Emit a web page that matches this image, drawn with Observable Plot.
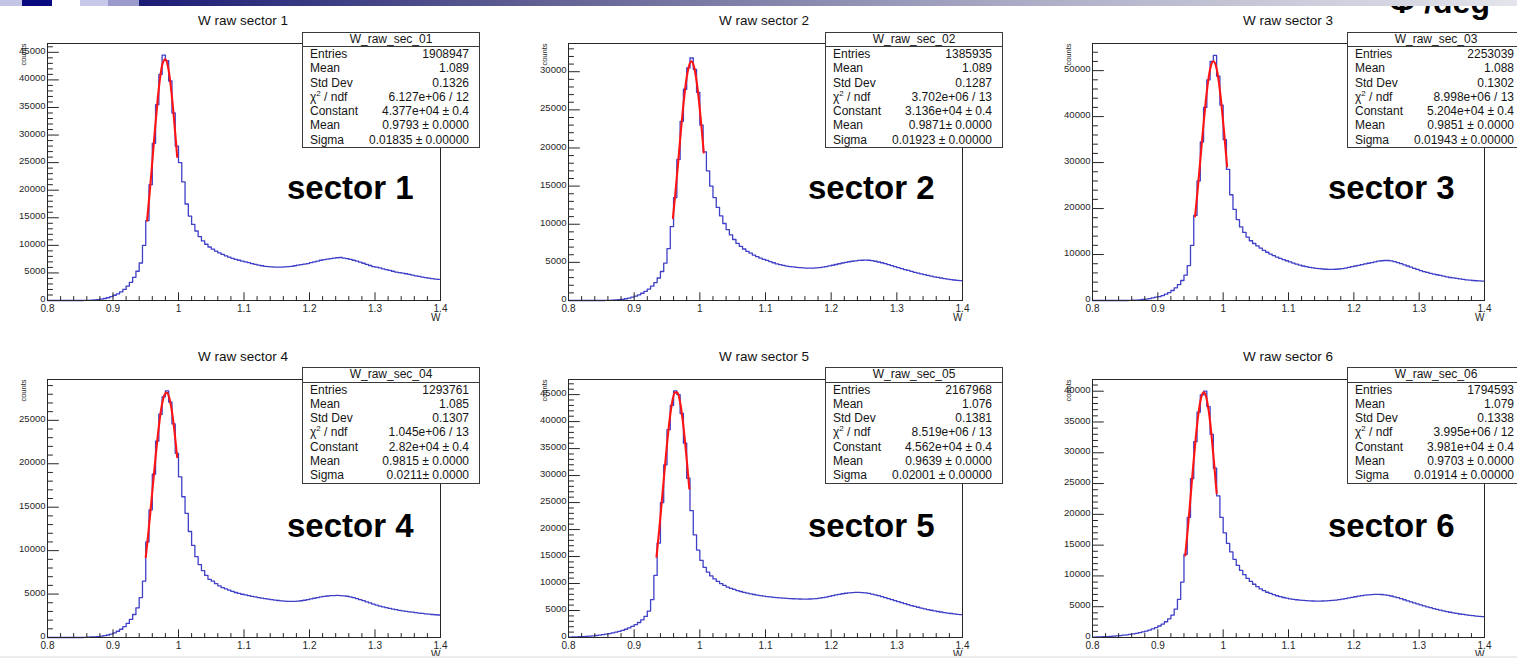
<!DOCTYPE html>
<html>
<head>
<meta charset="utf-8">
<script src="https://cdn.jsdelivr.net/npm/d3@7"></script>
<script src="https://cdn.jsdelivr.net/npm/@observablehq/plot@0.6"></script>
<style>
  body { margin: 0; background: #fff; }
  #root { position: relative; width: 1517px; height: 664px; overflow: hidden; font-family: "Liberation Sans", Arial, sans-serif; background: #fff; }
  .abs { position: absolute; }
  .title { position: absolute; font-size: 13.5px; line-height: 13.5px; color: #111; transform: translateX(-50%); white-space: nowrap; }
  .sector { position: absolute; font-size: 33px; line-height: 33px; font-weight: bold; color: #000; white-space: nowrap; }
  .stat { position: absolute; width: 178px; box-sizing: border-box; border: 1px solid #3a3a3a; background: #fff; font-size: 12px; color: #151515; }
  .stat .hdr { height: 13.5px; line-height: 13.5px; text-align: center; border-bottom: 1px solid #3a3a3a; }
  .stat .row { display: flex; justify-content: space-between; height: 14.3px; line-height: 14.3px; padding: 0 10px 0 7px; white-space: nowrap; }
  .band { position: absolute; top: 0; height: 6px; }
</style>
</head>
<body>
<div id="root"></div>
<script>
// ---------------- data ----------------
// histogram bins: left edges of 0.005-wide bins in W from 0.8 to 1.4
const wBinEdges = d3.range(120).map(i => Math.round((0.8 + i * 0.005) * 1000) / 1000);
const wUpperEdge = 1.4;

const sec1Counts = [
  0,0,0,0,0,0,0,0,0,0,
  0,20,40,70,110,170,250,360,500,700,
  950,1200,1550,2000,2600,3300,4200,5300,6800,10000,
  14500,21000,28500,35500,41000,44500,43500,39800,34000,28000,
  25000,21500,17500,15300,13800,12600,11600,10800,10200,9700,
  9300,8950,8650,8350,8100,7850,7650,7450,7300,7150,
  7000,6850,6700,6550,6400,6300,6200,6150,6100,6050,
  6050,6050,6100,6150,6200,6300,6400,6500,6600,6700,
  6850,7000,7150,7300,7400,7500,7600,7700,7750,7800,
  7700,7600,7450,7300,7150,6950,6750,6550,6350,6150,
  6050,5900,5750,5600,5450,5300,5150,5050,4950,4850,
  4750,4600,4480,4360,4250,4150,4050,3960,3890,3830
];
const sec2Counts = [
  0,0,0,0,0,0,0,0,0,0,
  0,10,25,45,70,110,160,230,320,430,
  570,740,950,1200,1500,1880,2350,2950,3800,4900,
  6800,9700,13500,18500,23500,27700,30500,31800,30300,27300,
  23000,19500,17000,15000,13500,12200,11100,10100,9300,8600,
  8000,7500,7100,6750,6450,6200,5950,5750,5550,5400,
  5250,5100,4950,4800,4700,4600,4500,4450,4400,4350,
  4300,4280,4250,4250,4250,4280,4320,4380,4450,4530,
  4620,4720,4820,4920,5000,5080,5150,5200,5250,5280,
  5300,5280,5220,5150,5050,4950,4830,4700,4570,4440,
  4310,4180,4060,3940,3820,3700,3590,3480,3380,3290,
  3200,3110,3030,2950,2880,2810,2750,2690,2640,2600
];
const sec3Counts = [
  0,0,0,0,0,0,0,0,0,0,
  0,30,60,100,150,220,310,420,560,730,
  850,1080,1370,1730,2180,2750,3450,4350,5500,7600,
  12000,18500,26000,34500,42000,48000,52000,53300,48800,42500,
  35000,28500,23000,19800,17600,16000,14800,13800,13000,12400,
  11900,11400,10900,10500,10100,9750,9450,9150,8900,8650,
  8400,8150,7900,7700,7500,7350,7200,7100,7000,6920,
  6850,6800,6780,6780,6800,6850,6950,7050,7200,7350,
  7500,7650,7800,7950,8100,8250,8400,8550,8650,8700,
  8700,8600,8450,8250,8000,7750,7500,7250,7000,6750,
  6500,6300,6100,5900,5750,5600,5450,5300,5150,5000,
  4900,4800,4700,4600,4500,4420,4350,4300,4250,4200
];
const sec4Counts = [
  0,0,0,0,0,0,0,0,0,0,
  0,20,40,60,80,110,150,210,290,400,
  540,720,950,1250,1620,2080,2650,3400,4600,6500,
  11000,14700,18800,22600,25700,27700,28400,27100,24600,21200,
  18500,16200,14300,12200,10600,9300,8400,7700,7150,6700,
  6500,6200,5950,5750,5600,5450,5300,5180,5070,4980,
  4900,4820,4740,4670,4600,4530,4470,4410,4360,4310,
  4260,4220,4180,4160,4150,4160,4190,4230,4290,4360,
  4440,4520,4600,4670,4730,4780,4810,4830,4840,4830,
  4800,4750,4680,4590,4480,4360,4240,4110,3980,3850,
  3730,3620,3520,3430,3350,3270,3200,3130,3070,3010,
  2960,2910,2860,2810,2770,2730,2690,2650,2620,2590
];
const sec5Counts = [
  80,100,120,150,180,220,260,310,370,440,
  520,610,720,840,980,1140,1320,1530,1770,2050,
  2380,2780,3280,3900,4900,7000,11500,17500,25000,32000,
  38500,43000,45700,45000,41500,36000,29500,23500,19000,16200,
  14300,13000,12100,11400,10850,10400,10000,9650,9350,9100,
  8900,8700,8520,8360,8220,8090,7970,7860,7760,7670,
  7590,7520,7450,7390,7340,7290,7250,7210,7180,7150,
  7130,7120,7120,7130,7160,7210,7280,7370,7480,7610,
  7750,7880,8000,8110,8200,8270,8320,8350,8350,8320,
  8260,8170,8050,7910,7750,7580,7400,7210,7020,6830,
  6640,6450,6270,6090,5920,5760,5600,5450,5310,5180,
  5050,4930,4820,4720,4620,4530,4450,4370,4300,4240
];
const sec6Counts = [
  60,80,100,120,150,180,220,260,310,370,
  430,500,580,670,780,900,1040,1200,1390,1610,
  1870,2180,2560,3030,3620,4600,6200,9000,13500,19500,
  25800,31800,36600,39400,40000,37500,33000,27500,23000,19500,
  17000,15300,13900,12700,11700,10900,10200,9600,9100,8650,
  8250,7900,7600,7350,7150,6950,6780,6630,6500,6380,
  6280,6200,6130,6070,6020,5980,5950,5930,5920,5920,
  5930,5950,5980,6020,6080,6150,6230,6320,6420,6520,
  6620,6720,6800,6870,6930,6970,7000,7000,6980,6930,
  6850,6740,6610,6460,6300,6130,5960,5790,5620,5450,
  5290,5130,4980,4840,4700,4570,4440,4320,4210,4100,
  4000,3910,3820,3740,3670,3600,3540,3480,3430,3380
];

// Gaussian fit curves (red)
const fit1W = [0.952,0.956,0.960,0.964,0.968,0.972,0.976,0.980,0.984,0.988,0.992,0.996,0.998];
const fit1C = [14470,19550,25170,30900,36200,40440,43070,43740,42360,39120,34450,28930,26040];
const fit2W = [0.959,0.963,0.967,0.971,0.975,0.979,0.983,0.987,0.991,0.995,0.999,1.003,1.006];
const fit2C = [10800,14300,18100,22100,25700,28700,30600,31360,30700,28800,25900,22300,19400];
const fit3W = [0.957,0.961,0.965,0.969,0.973,0.977,0.981,0.985,0.989,0.993,0.997,1.001,1.006];
const fit3C = [18270,24120,30490,36920,42860,47710,50890,52040,51000,47930,43140,37260,29140];
const fit4W = [0.950,0.954,0.958,0.962,0.966,0.970,0.974,0.978,0.982,0.986,0.990,0.994,0.998];
const fit4C = [9260,12060,15170,18400,21530,24310,26480,27810,28190,27570,26010,23650,20770];
const fit5W = [0.934,0.938,0.942,0.946,0.950,0.954,0.958,0.962,0.966,0.970,0.974,0.978,0.982,0.984];
const fit5C = [14950,19740,25070,30570,35840,40360,43680,45410,45370,43550,40160,35600,30290,27560];
const fit6W = [0.942,0.946,0.950,0.954,0.958,0.962,0.966,0.970,0.974,0.978,0.982,0.986,0.990];
const fit6C = [13340,17780,22680,27690,32380,36230,38810,39810,39070,36710,33040,28440,23440];

const panelTitles = ["W raw sector 1","W raw sector 2","W raw sector 3","W raw sector 4","W raw sector 5","W raw sector 6"];
const sectorLabels = ["sector 1","sector 2","sector 3","sector 4","sector 5","sector 6"];
const statNames = ["W_raw_sec_01","W_raw_sec_02","W_raw_sec_03","W_raw_sec_04","W_raw_sec_05","W_raw_sec_06"];
const statEntries = ["1908947","1385935","2253039","1293761","2167968","1794593"];
const statMeans = ["1.089","1.089","1.088","1.085","1.076","1.079"];
const statStdDevs = ["0.1326","0.1287","0.1302","0.1307","0.1381","0.1338"];
const statChi2 = ["6.127e+06 / 12","3.702e+06 / 13","8.998e+06 / 13","1.045e+06 / 13","8.519e+06 / 13","3.995e+06 / 12"];
const statConstants = ["4.377e+04 ± 0.4","3.136e+04 ± 0.4","5.204e+04 ± 0.4","2.82e+04 ± 0.4","4.562e+04 ± 0.4","3.981e+04 ± 0.4"];
const statFitMeans = ["0.9793 ± 0.0000","0.9871± 0.0000","0.9851 ± 0.0000","0.9815 ± 0.0000","0.9639 ± 0.0000","0.9703 ± 0.0000"];
const statSigmas = ["0.01835 ± 0.00000","0.01923 ± 0.00000","0.01943 ± 0.00000","0.0211± 0.0000","0.02001 ± 0.00000","0.01914 ± 0.00000"];

const yMaxes = [46600, 33700, 55900, 29700, 47800, 41900];
const yMajorSteps = [5000, 5000, 10000, 5000, 5000, 5000];
const xMajorTicks = [0.8, 0.9, 1.0, 1.1, 1.2, 1.3, 1.4];
const xTitle = "W";
const yTitle = "counts";

// ---------------- drawing ----------------
const allCounts = [sec1Counts, sec2Counts, sec3Counts, sec4Counts, sec5Counts, sec6Counts];
const allFitW = [fit1W, fit2W, fit3W, fit4W, fit5W, fit6W];
const allFitC = [fit1C, fit2C, fit3C, fit4C, fit5C, fit6C];

const root = document.getElementById("root");
const FONT = "Liberation Sans, Arial, Helvetica, sans-serif";
const INK = "#262626";

function drawPanel(i) {
  const col = i % 3, row = Math.floor(i / 3);
  const L = [0, 500, 1020][col], W = [500, 520, 497][col];
  const ml = [47, 68, 72][col], mr = [60, 58, 33][col];
  const T = [0, 330][row], H = [330, 334][row];
  const mt = [43, 49][row], mb = [30, 27][row];
  const pw = W - ml - mr, ph = H - mt - mb;

  const counts = allCounts[i];
  const hist = wBinEdges.map((w, k) => ({w, c: counts[k]}));
  hist.push({w: wUpperEdge, c: counts[counts.length - 1]});
  const fit = allFitW[i].map((w, k) => ({w, c: allFitC[i][k]}));

  const ymax = yMaxes[i], step = yMajorSteps[i];
  const yMaj = d3.range(0, ymax, step);
  const yMin = d3.range(0, ymax, step / 5).filter(v => Math.abs(v % step) > 1e-6);
  const xMin = d3.range(0, 31).map(k => Math.round((0.8 + k * 0.02) * 1000) / 1000)
    .filter(v => !xMajorTicks.some(t => Math.abs(t - v) < 1e-6));

  const svg = Plot.plot({
    width: W, height: H,
    marginLeft: ml, marginRight: mr, marginTop: mt, marginBottom: mb,
    x: {domain: [0.8, 1.4], axis: null},
    y: {domain: [0, ymax], axis: null},
    style: {background: "transparent", overflow: "visible", fontFamily: FONT},
    marks: [
      Plot.line(hist, {x: "w", y: "c", curve: "step-after", stroke: "#3f3fc8", strokeWidth: 1.3}),
      Plot.line(fit, {x: "w", y: "c", curve: "monotone-x", stroke: "#ff1414", strokeWidth: 2.1}),
      Plot.ruleX(xMajorTicks, {insetTop: ph - 7.7, stroke: INK}),
      Plot.ruleX(xMin, {insetTop: ph - 3.9, stroke: INK}),
      Plot.ruleY(yMaj, {insetRight: pw - 11.8, stroke: INK}),
      Plot.ruleY(yMin, {insetRight: pw - 5.9, stroke: INK}),
      Plot.frame({stroke: INK, strokeWidth: 1}),
      Plot.axisX(xMajorTicks, {tickSize: 0, tickPadding: 4.5, label: null, fontSize: 10, fill: INK,
        tickFormat: d => String(+d.toFixed(1))}),
      Plot.axisY(yMaj, {tickSize: 0, tickPadding: 2, dy: -1.5, label: null, fontSize: 9.5, fill: INK,
        tickFormat: d => String(d)}),
      Plot.text([xTitle], {text: d => d, frameAnchor: "bottom-right", dy: 20, textAnchor: "end", fontSize: 10, fill: INK}),
      Plot.text([yTitle], {text: d => d, frameAnchor: "top-left", dx: -27, rotate: -90, textAnchor: "end", fontSize: 7.5, fill: INK})
    ]
  });
  svg.style.position = "absolute";
  svg.style.left = L + "px";
  svg.style.top = T + "px";
  root.appendChild(svg);

  // title
  const title = document.createElement("div");
  title.className = "title";
  title.textContent = panelTitles[i];
  title.style.left = [243, 764, 1288][col] + "px";
  title.style.top = [14.3, 349.8][row] + "px";
  root.appendChild(title);

  // big sector label
  const sec = document.createElement("div");
  sec.className = "sector";
  sec.textContent = sectorLabels[i];
  sec.style.left = [287, 808, 1328][col] + "px";
  sec.style.top = [171, 509][row] + "px";
  root.appendChild(sec);

  // stat box
  const box = document.createElement("div");
  box.className = "stat";
  box.style.left = [302, 825, 1347][col] + "px";
  box.style.top = [31.5, 367][row] + "px";
  const rows = [
    ["Entries", statEntries[i]],
    ["Mean", statMeans[i]],
    ["Std Dev", statStdDevs[i]],
    ["χ<sup style='font-size:8px;line-height:0'>2</sup> / ndf", statChi2[i]],
    ["Constant", statConstants[i]],
    ["Mean", statFitMeans[i]],
    ["Sigma", statSigmas[i]]
  ];
  box.innerHTML = `<div class="hdr">${statNames[i]}</div>` +
    rows.map(([k, v]) => `<div class="row"><span>${k}</span><span>${v}</span></div>`).join("");
  root.appendChild(box);
}

for (let i = 0; i < 6; i++) drawPanel(i);

// slide decorations
const phi = document.createElement("div");
phi.className = "abs";
phi.style.cssText = "left:1389px;top:-14px;font-size:32px;line-height:32px;font-weight:bold;color:#000;white-space:nowrap;";
phi.textContent = "Φ /deg";
root.appendChild(phi);

const bands = [
  [0, 22, "#c4c4e4"], [22, 30, "#0a0a80"], [80, 28, "#c8c8ea"], [108, 31, "#9a9acc"]
];
for (const [x, w, c] of bands) {
  const b = document.createElement("div");
  b.className = "band";
  b.style.left = x + "px"; b.style.width = w + "px"; b.style.background = c;
  root.appendChild(b);
}
const grad = document.createElement("div");
grad.className = "band";
grad.style.left = "139px"; grad.style.width = "1378px";
grad.style.background = "linear-gradient(to right, #1c1c76, #5e5e92 28%, #acacc6 64%, #e4e4ec)";
root.appendChild(grad);

const foot = document.createElement("div");
foot.className = "abs";
foot.style.cssText = "left:0;top:656px;width:1517px;height:2px;background:#ececec;";
root.appendChild(foot);
</script>
</body>
</html>
